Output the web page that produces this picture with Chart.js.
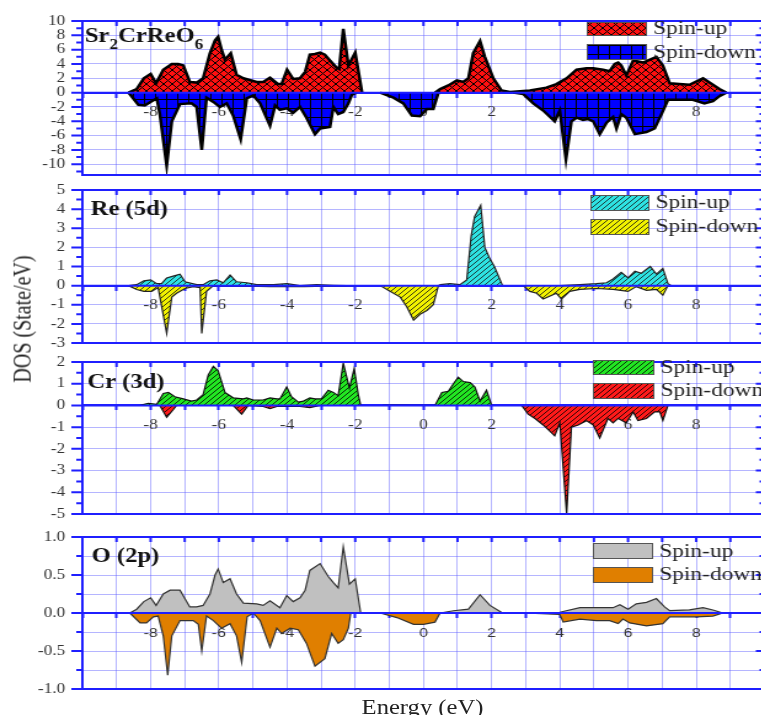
<!DOCTYPE html>
<html>
<head>
<meta charset="utf-8">
<script src="https://cdn.jsdelivr.net/npm/chart.js@4.4.1/dist/chart.umd.min.js"></script>
<style>
  html, body { margin: 0; padding: 0; background: #fff; overflow: hidden; width: 761px; height: 715px; }
  /* the original figure is stretched sideways, so the whole drawing is too */
  #wrap { position: absolute; left: 0; top: 0; width: 640px; height: 715px; transform: scaleX(1.23); transform-origin: 0 0; }
  #wrap canvas { position: absolute; left: 0; }
  .ttl { position: absolute; font-family: 'Liberation Serif', 'Times New Roman', serif; font-size: 20px; line-height: 20px; color: #222; white-space: nowrap; }
  #ytitle { left: 18px; top: 319px; transform: translate(-50%, -50%) rotate(-90deg); }
  #xtitle { left: 294px; top: 697px; }
</style>
</head>
<body>
<div id="wrap">
  <!-- chart area starts 21px inside each canvas (half label + tick padding) -->
  <canvas id="c1" width="640" height="196" style="top:0px"></canvas>
  <canvas id="c2" width="640" height="195" style="top:169px"></canvas>
  <canvas id="c3" width="640" height="194" style="top:341px"></canvas>
  <canvas id="c4" width="640" height="194" style="top:516px"></canvas>
  <div class="ttl" id="ytitle">DOS (State/eV)</div>
  <div class="ttl" id="xtitle">Energy (eV)</div>
</div>
<script>
// [energy (eV), DOS], null = gap between bands
const totalUp = [[-8.65,0],[-8.41,0.5],[-8.2,2.0],[-8.0,2.6],[-7.84,1.3],[-7.63,3.2],[-7.38,4.0],[-7.19,4.0],[-7.04,3.8],[-6.85,1.5],[-6.65,1.4],[-6.46,2.0],[-6.26,5.5],[-6.11,7.3],[-6.02,7.8],[-5.92,6.0],[-5.82,4.6],[-5.65,5.5],[-5.48,2.5],[-5.28,2.0],[-4.89,1.5],[-4.7,1.5],[-4.5,2.1],[-4.26,1.2],[-4.16,1.2],[-4.0,3.2],[-3.82,1.9],[-3.62,2.0],[-3.47,2.9],[-3.33,5.3],[-3.18,5.4],[-3.03,5.6],[-2.89,5.3],[-2.74,4.5],[-2.55,3.5],[-2.47,3.3],[-2.35,8.9],[-2.2,3.8],[-2.0,5.6],[-1.8,0],[-1,null],[0.34,0],[0.49,0.5],[0.73,1.0],[0.98,1.7],[1.17,1.5],[1.32,2.0],[1.46,5.5],[1.66,7.2],[1.8,5.0],[2.05,2.0],[2.29,0.3],[2.54,0.1],[3.12,0.3],[3.6,0.7],[3.9,1.2],[4.2,2.0],[4.49,3.2],[4.78,3.4],[4.98,3.4],[5.27,3.2],[5.46,3.0],[5.61,4.0],[5.71,4.2],[5.8,3.8],[5.95,2.4],[6.15,4.5],[6.44,4.2],[6.83,5.0],[7.02,3.8],[7.22,1.3],[7.8,1.1],[8.2,2.0],[8.49,1.1],[8.68,0.5],[8.88,0]];
const totalDown = [[-8.65,0],[-8.56,-0.5],[-8.36,-1.7],[-8.17,-1.8],[-7.97,-1.2],[-7.82,-0.8],[-7.73,-3.0],[-7.53,-10.2],[-7.38,-4.0],[-7.14,-1.6],[-6.8,-1.5],[-6.65,-2.0],[-6.5,-8.0],[-6.36,-0.7],[-6.16,-1.3],[-5.97,-2.0],[-5.77,-1.5],[-5.58,-3.2],[-5.36,-6.5],[-5.18,-0.8],[-4.99,-0.4],[-4.79,-1.5],[-4.5,-4.6],[-4.35,-1.8],[-4.21,-2.4],[-4.01,-2.2],[-3.82,-2.8],[-3.62,-2.0],[-3.43,-3.5],[-3.18,-5.8],[-3.03,-5.0],[-2.74,-4.8],[-2.64,-2.0],[-2.5,-3.0],[-2.35,-2.7],[-2.2,-1.5],[-2.1,-0.3],[-1.96,0],[-1.6,null],[-1.27,0],[-0.88,-0.7],[-0.59,-1.5],[-0.34,-3.2],[-0.1,-3.3],[0.1,-2.3],[0.29,-2.3],[0.44,0],[1.5,null],[2.63,0],[2.93,-0.2],[3.22,-1.5],[3.51,-2.5],[3.85,-4.0],[4.0,-2.5],[4.18,-9.3],[4.34,-4.0],[4.49,-3.5],[4.68,-3.8],[4.83,-3.7],[4.98,-4.0],[5.17,-5.8],[5.37,-4.2],[5.56,-3.4],[5.66,-5.0],[5.8,-3.0],[5.95,-3.5],[6.2,-5.8],[6.54,-5.5],[6.78,-5.0],[6.98,-3.0],[7.17,-1.0],[7.51,-1.0],[7.9,-1.0],[8.24,-1.5],[8.49,-1.2],[8.68,-0.5],[8.88,0]];

const reUp = [[-8.65,0],[-8.41,0.05],[-8.2,0.25],[-8.0,0.3],[-7.82,0.1],[-7.68,0.1],[-7.53,0.4],[-7.34,0.5],[-7.14,0.6],[-6.99,0.2],[-6.65,0.05],[-6.46,0.05],[-6.26,0.25],[-6.06,0.3],[-5.87,0.15],[-5.67,0.55],[-5.48,0.2],[-5.18,0.15],[-4.89,0.05],[-4.4,0.05],[-4.0,0.1],[-3.62,0.0],[-3.13,0.05],[-2.64,0.02],[-2.25,0],[-1,null],[0.44,0],[0.5,0.05],[0.78,0.1],[1.07,0.05],[1.27,0.3],[1.4,2.6],[1.5,3.6],[1.68,4.2],[1.8,2.0],[1.95,1.4],[2.08,1.0],[2.32,0],[3,null],[4.0,0],[4.59,0.05],[5.07,0.1],[5.37,0.15],[5.56,0.35],[5.8,0.7],[6.0,0.4],[6.2,0.75],[6.39,0.65],[6.65,1.0],[6.83,0.6],[7.02,0.9],[7.17,0.1],[7.27,0]];
const reDown = [[-8.65,0],[-8.41,-0.2],[-8.2,-0.3],[-7.97,-0.3],[-7.78,-0.1],[-7.53,-2.5],[-7.38,-0.6],[-7.24,-0.4],[-6.99,-0.15],[-6.75,-0.05],[-6.55,-0.1],[-6.5,-2.5],[-6.36,-0.3],[-6.16,0],[-5.5,-0.02],[-4.5,-0.05],[-3.5,-0.05],[-2.5,-0.02],[-2.0,0],[-1.6,null],[-1.27,0],[-0.98,-0.3],[-0.68,-0.6],[-0.49,-1.1],[-0.29,-1.8],[-0.1,-1.5],[0.1,-1.3],[0.29,-1.0],[0.44,0],[1.5,null],[2.93,0],[3.12,-0.3],[3.32,-0.4],[3.51,-0.7],[3.9,-0.4],[4.05,-0.7],[4.29,-0.3],[4.59,-0.2],[5.07,-0.15],[5.56,-0.2],[6.0,-0.3],[6.24,-0.05],[6.54,-0.25],[6.83,-0.2],[7.02,-0.5],[7.17,0]];

const crUp = [[-8.31,0],[-8.07,0.1],[-7.82,0.05],[-7.63,0.55],[-7.48,0.6],[-7.29,0.4],[-7.04,0.3],[-6.8,0.2],[-6.65,0.25],[-6.46,0.5],[-6.31,1.4],[-6.16,1.8],[-6.02,1.6],[-5.82,0.6],[-5.58,0.35],[-5.28,0.3],[-5.18,0.35],[-4.99,0.25],[-4.7,0.25],[-4.5,0.35],[-4.3,0.3],[-4.21,0.3],[-4.01,0.85],[-3.87,0.4],[-3.67,0.15],[-3.52,0.2],[-3.33,0.35],[-3.18,0.3],[-2.99,0.3],[-2.79,0.7],[-2.64,0.6],[-2.5,0.45],[-2.35,1.95],[-2.17,0.8],[-2.03,1.7],[-1.91,0.5],[-1.84,0],[-1.5,null],[-1.2,0],[-0.88,0.02],[-0.29,0.0],[0.34,0],[0.54,0.6],[0.73,0.65],[0.88,1.0],[1.02,1.3],[1.17,1.1],[1.37,1.05],[1.51,0.85],[1.66,0.2],[1.85,0.7],[2.0,0]];
const crDown = [[-7.73,0],[-7.53,-0.55],[-7.34,-0.2],[-7.24,0],[-5.58,0],[-5.33,-0.4],[-5.14,0],[-4.7,-0.05],[-4.5,-0.15],[-4.3,-0.05],[-3.62,-0.05],[-3.33,-0.1],[-3.03,0],[-1.5,null],[2.88,0],[3.07,-0.4],[3.27,-0.6],[3.51,-0.9],[3.85,-1.4],[4.0,-0.8],[4.2,-5.0],[4.34,-1.0],[4.54,-0.9],[4.78,-0.7],[4.98,-0.9],[5.17,-1.5],[5.41,-0.6],[5.56,-0.8],[5.71,-0.6],[5.95,-0.8],[6.15,-0.3],[6.29,-0.7],[6.54,-0.6],[6.78,-0.3],[6.93,-0.3],[7.02,-0.7],[7.17,0]];

const oUp = [[-8.61,0],[-8.41,0.05],[-8.2,0.15],[-8.0,0.2],[-7.84,0.1],[-7.63,0.25],[-7.43,0.3],[-7.14,0.3],[-6.85,0.08],[-6.65,0.08],[-6.46,0.1],[-6.26,0.25],[-6.11,0.5],[-6.02,0.58],[-5.87,0.4],[-5.67,0.45],[-5.48,0.25],[-5.28,0.13],[-4.89,0.12],[-4.7,0.1],[-4.5,0.16],[-4.21,0.07],[-4.01,0.23],[-3.82,0.15],[-3.62,0.2],[-3.47,0.3],[-3.33,0.56],[-3.03,0.65],[-2.79,0.48],[-2.64,0.4],[-2.5,0.33],[-2.35,0.87],[-2.17,0.38],[-2.0,0.45],[-1.84,0],[-1,null],[0.49,0],[0.88,0.03],[1.32,0.05],[1.66,0.24],[1.95,0.1],[2.32,0],[2.6,null],[2.93,0],[4.0,0.01],[4.59,0.07],[5.07,0.07],[5.56,0.07],[5.76,0.11],[6.0,0.05],[6.24,0.12],[6.54,0.14],[6.83,0.19],[7.07,0.08],[7.22,0.03],[7.8,0.04],[8.2,0.07],[8.49,0.04],[8.78,0]];
const oDown = [[-8.61,0],[-8.31,-0.13],[-8.12,-0.13],[-7.92,-0.05],[-7.78,-0.04],[-7.63,-0.3],[-7.5,-0.82],[-7.38,-0.3],[-7.14,-0.1],[-6.75,-0.1],[-6.6,-0.15],[-6.5,-0.5],[-6.36,-0.04],[-6.16,-0.1],[-5.92,-0.2],[-5.67,-0.14],[-5.48,-0.3],[-5.33,-0.65],[-5.17,-0.05],[-4.99,0],[-4.79,-0.1],[-4.5,-0.45],[-4.3,-0.2],[-4.16,-0.27],[-3.91,-0.2],[-3.67,-0.22],[-3.43,-0.4],[-3.18,-0.7],[-2.89,-0.6],[-2.69,-0.27],[-2.5,-0.4],[-2.35,-0.35],[-2.2,-0.2],[-2.13,0],[-1.7,null],[-1.27,0],[-0.78,-0.06],[-0.29,-0.15],[0,-0.15],[0.34,-0.12],[0.49,0],[1.5,null],[2.93,0],[4.0,-0.02],[4.1,-0.12],[4.59,-0.08],[5.07,-0.1],[5.46,-0.1],[5.71,-0.14],[5.85,-0.08],[6.05,-0.13],[6.54,-0.17],[7.02,-0.14],[7.22,-0.05],[8.0,-0.05],[8.49,-0.04],[8.78,0]];

// tick labels
const energyLabels = [-8, -6, -4, -2, 0, 2, 4, 6, 8];
const totalYMajor = [-10, -8, -6, -4, -2, 0, 2, 4, 6, 8, 10];
const totalYMinor = [-11, -9, -7, -5, -3, -1, 1, 3, 5, 7, 9];
const reYMajor = [-3, -2, -1, 0, 1, 2, 3, 4, 5];
const reYMinor = [-2.5, -1.5, -0.5, 0.5, 1.5, 2.5, 3.5, 4.5];
const crYMajor = [-5, -4, -3, -2, -1, 0, 1, 2];
const crYMinor = [-4.5, -3.5, -2.5, -1.5, -0.5, 0.5, 1.5];
const oYMajor = [-1, -0.5, 0, 0.5, 1];
const oYMinor = [-0.75, -0.25, 0.25, 0.75];

const AXIS = '#1f1fff';
const GRID = 'rgba(90,90,255,0.45)';
const SERIF = "'Liberation Serif', 'Times New Roman', serif";
const SANS = "'Liberation Sans', Arial, sans-serif";

// fill patterns like the Origin hatches
function makePattern(ctx, bg, kind, size, ink) {
    const c = document.createElement('canvas');
    c.width = size; c.height = size;
    const g = c.getContext('2d');
    g.fillStyle = bg;
    g.fillRect(0, 0, size, size);
    if (kind) {
        g.strokeStyle = ink;
        g.lineWidth = 1;
        g.beginPath();
        if (kind === 'cross') {
            g.moveTo(0, 0); g.lineTo(size, size);
            g.moveTo(size, 0); g.lineTo(0, size);
        } else if (kind === 'grid') {
            g.moveTo(0, 0.5); g.lineTo(size, 0.5);
            g.moveTo(0.5, 0); g.lineTo(0.5, size);
        } else {
            g.moveTo(0, size); g.lineTo(size, 0);
            g.moveTo(-1, 1); g.lineTo(1, -1);
            g.moveTo(size - 1, size + 1); g.lineTo(size + 1, size - 1);
        }
        g.stroke();
    }
    return ctx.createPattern(c, 'repeat');
}

const panels = [
    { id: 'c1', title: [['Sr', 0], ['2', 1], ['CrReO', 0], ['6', 1]], tx: 2, ty: 21,
      up: totalUp, down: totalDown, upFill: ['#ff1010', 'cross', 7, '#000'], downFill: ['#0000ff', 'grid', 9, '#000'],
      line: '#000', lw: 2.5, yMin: -11.5, yMax: 10, yMajor: totalYMajor, yMinor: totalYMinor, gridAll: false,
      fmt: v => String(v), xFont: { family: SERIF, size: 14 }, xPad: 7,
      leg: { x: 477, w: 48, up: [1, 13], down: [23, 15], tx: 531, base: [13.3, 37.3] } },
    { id: 'c2', title: [['Re (5d)', 0]], tx: 6.7, ty: 25,
      up: reUp, down: reDown, upFill: ['#2ee3e3', 'diag', 5, '#1a3a3a'], downFill: ['#f2f200', 'diag', 5, '#3a3a10'],
      line: '#222', lw: 1.2, yMin: -3, yMax: 5, yMajor: reYMajor, yMinor: reYMinor, gridAll: false,
      fmt: v => String(v), xFont: { family: SERIF, size: 14 }, xPad: 7,
      leg: { x: 480, w: 47, up: [5, 15], down: [29, 15], tx: 533, base: [18.3, 42.3] } },
    { id: 'c3', title: [['Cr (3d)', 0]], tx: 4, ty: 26.3,
      up: crUp, down: crDown, upFill: ['#22e622', 'diag', 5, '#063006'], downFill: ['#ff1a1a', 'diag', 5, '#300505'],
      line: '#111', lw: 1.2, yMin: -5, yMax: 2, yMajor: crYMajor, yMinor: crYMinor, gridAll: false,
      fmt: v => String(v), xFont: { family: SERIF, size: 14 }, xPad: 7,
      leg: { x: 482, w: 49, up: [-2, 14], down: [21, 15], tx: 537, base: [11, 34] } },
    { id: 'c4', title: [['O (2p)', 0]], tx: 7.5, ty: 24.7,
      up: oUp, down: oDown, upFill: ['#c0c0c0', null, 4, ''], downFill: ['#e07f00', null, 4, ''],
      line: '#333', lw: 1.2, yMin: -1, yMax: 1, yMajor: oYMajor, yMinor: oYMinor, gridAll: true,
      fmt: v => v.toFixed(1), xFont: { family: SANS, size: 13 }, xPad: 9,
      leg: { x: 482, w: 48, up: [6, 15], down: [30, 15], tx: 536, base: [20, 43] } }
];

// frame, zero line, ticks, panel title and legend, drawn like in Origin
function framePlugin(p) {
    return {
        id: 'frame_' + p.id,
        afterDatasetsDraw(chart) {
            const { ctx, chartArea: a } = chart;
            const x = chart.scales.x, y = chart.scales.y;
            ctx.save();
            ctx.strokeStyle = AXIS;
            ctx.lineWidth = 2;
            ctx.beginPath();
            const y0 = y.getPixelForValue(0);
            ctx.moveTo(a.left, y0); ctx.lineTo(a.right, y0);
            ctx.moveTo(a.left, a.top); ctx.lineTo(a.right, a.top);
            ctx.moveTo(a.left, a.bottom); ctx.lineTo(a.right, a.bottom);
            for (let e = -10; e <= 10; e++) {
                const px = x.getPixelForValue(e);
                ctx.moveTo(px, a.top); ctx.lineTo(px, a.top + 5);
            }
            p.yMajor.forEach(v => {
                const py = y.getPixelForValue(v);
                ctx.moveTo(a.left - 9, py); ctx.lineTo(a.left, py);
                ctx.moveTo(a.right, py); ctx.lineTo(a.right - 7, py);
            });
            p.yMinor.forEach(v => {
                const py = y.getPixelForValue(v);
                ctx.moveTo(a.left - 5, py); ctx.lineTo(a.left, py);
                ctx.moveTo(a.right, py); ctx.lineTo(a.right - 4, py);
            });
            ctx.stroke();
            ctx.restore();
        },
        afterDraw(chart) {
            const { ctx, chartArea: a } = chart;
            ctx.save();
            // panel title
            let tx = a.left + p.tx;
            const base = a.top + p.ty;
            ctx.fillStyle = '#111';
            ctx.textBaseline = 'alphabetic';
            p.title.forEach(([txt, sub]) => {
                ctx.font = 'bold ' + (sub ? 14 : 20) + 'px ' + SERIF;
                ctx.fillText(txt, tx, sub ? base + 7 : base);
                tx += ctx.measureText(txt).width;
            });
            // legend
            const L = p.leg;
            chart.data.datasets.forEach((ds, i) => {
                const box = i === 0 ? L.up : L.down;
                ctx.fillStyle = ds.backgroundColor;
                ctx.fillRect(L.x, a.top + box[0], L.w, box[1]);
                ctx.strokeStyle = '#555';
                ctx.lineWidth = 1;
                ctx.strokeRect(L.x + 0.5, a.top + box[0] + 0.5, L.w, box[1]);
                ctx.fillStyle = '#222';
                ctx.font = '19px ' + SERIF;
                ctx.fillText(ds.label, L.tx, a.top + L.base[i]);
            });
            ctx.restore();
        }
    };
}

function drawPanel(p) {
    const canvas = document.getElementById(p.id);
    const ctx = canvas.getContext('2d');
    const toXY = arr => arr.map(([e, v]) => ({ x: e, y: v }));
    const ticksAll = p.yMajor.concat(p.yMinor).sort((a, b) => a - b);

    return new Chart(ctx, {
        type: 'line',
        data: {
            datasets: [{
                label: 'Spin-up',
                data: toXY(p.up),
                borderColor: p.line,
                borderWidth: p.lw,
                backgroundColor: makePattern(ctx, ...p.upFill),
                fill: 'origin',
                pointRadius: 0,
                tension: 0,
                spanGaps: false
            }, {
                label: 'Spin-down',
                data: toXY(p.down),
                borderColor: p.line,
                borderWidth: p.lw,
                backgroundColor: makePattern(ctx, ...p.downFill),
                fill: 'origin',
                pointRadius: 0,
                tension: 0,
                spanGaps: false
            }]
        },
        options: {
            responsive: false,
            animation: false,
            events: [],
            // top/bottom space comes from the y labels: 7 (half label) + 14 (padding)
            layout: { padding: { top: 0, bottom: 0, left: 0, right: 18.5 } },
            scales: {
                x: {
                    type: 'linear',
                    min: -10,
                    max: 10,
                    position: { y: 0 },
                    ticks: {
                        stepSize: 1,
                        autoSkip: false,
                        maxRotation: 0,
                        padding: p.xPad,
                        color: '#333',
                        font: p.xFont,
                        callback: v => energyLabels.includes(v) ? String(v) : ''
                    },
                    grid: { color: GRID, lineWidth: 1, tickLength: 4, tickColor: AXIS, tickWidth: 2 },
                    border: { display: true, color: AXIS, width: 2 }
                },
                y: {
                    type: 'linear',
                    min: p.yMin,
                    max: p.yMax,
                    position: 'left',
                    afterBuildTicks: axis => { axis.ticks = ticksAll.map(v => ({ value: v })); },
                    afterFit: scale => { scale.width = 67; },
                    ticks: {
                        autoSkip: false,
                        padding: 14,
                        color: '#333',
                        font: { family: SERIF, size: 14, lineHeight: 1 },
                        callback: v => p.yMajor.includes(v) ? p.fmt(v) : ''
                    },
                    grid: {
                        drawTicks: false,
                        color: c => (c.tick && (p.gridAll || p.yMajor.includes(c.tick.value))) ? GRID : 'rgba(0,0,0,0)'
                    },
                    border: { display: true, color: AXIS, width: 2 }
                }
            },
            plugins: {
                legend: { display: false },
                tooltip: { enabled: false }
            }
        },
        plugins: [framePlugin(p)]
    });
}

panels.forEach(drawPanel);
</script>
</body>
</html>
